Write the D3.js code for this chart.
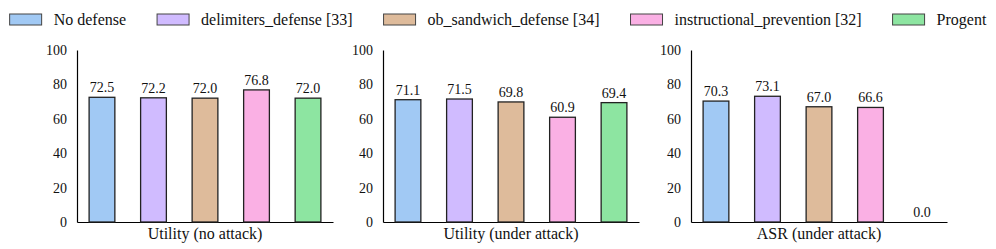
<!DOCTYPE html>
<html>
<head>
<meta charset="utf-8">
<script src="https://cdn.jsdelivr.net/npm/d3@7"></script>
<style>
  html, body { margin: 0; padding: 0; background: #fff; }
  svg { display: block; }
</style>
</head>
<body>
<svg id="chart" width="996" height="249" font-family="Liberation Serif"></svg>
<script>
// defenses (legend order) and colours
const defenses = ['No defense', 'delimiters_defense [33]', 'ob_sandwich_defense [34]', 'instructional_prevention [32]', 'Progent'];
const colors = ['#a1c9f4', '#d0bbff', '#debb9b', '#fab0e4', '#8de5a1'];

// one panel per metric
const metrics = ['Utility (no attack)', 'Utility (under attack)', 'ASR (under attack)'];
const utilityNoAttack = [72.5, 72.2, 72.0, 76.8, 72.0];
const utilityUnderAttack = [71.1, 71.5, 69.8, 60.9, 69.4];
const asrUnderAttack = [70.3, 73.1, 67.0, 66.6, 0.0];
const yTicks = [0, 20, 40, 60, 80, 100];

const seriesByMetric = [utilityNoAttack, utilityUnderAttack, asrUnderAttack];

const FONT = 'Liberation Serif';
const svg = d3.select('#chart');

const panelLeft = [77, 383, 691];
const panelWidth = 256;
const plotTop = 50, plotBottom = 222;

const x = d3.scaleBand().domain(defenses).range([0, panelWidth]).paddingInner(0.5).paddingOuter(0.235);
const y = d3.scaleLinear().domain([0, 100]).range([plotBottom, plotTop]);

metrics.forEach((metric, i) => {
  const values = seriesByMetric[i];
  const g = svg.append('g').attr('transform', `translate(${panelLeft[i]},0)`);

  // y axis, no tick marks
  const yAxis = g.append('g')
    .call(d3.axisLeft(y).tickValues(yTicks).tickSize(0).tickPadding(10))
    .attr('font-family', FONT)
    .attr('font-size', 14);
  yAxis.select('.domain').attr('stroke', '#000').attr('stroke-width', 1.2);
  yAxis.selectAll('text').attr('fill', '#111');

  // x axis line only
  const xAxis = g.append('g')
    .attr('transform', `translate(0,${plotBottom})`)
    .call(d3.axisBottom(x).tickSize(0).tickFormat(''));
  xAxis.select('.domain').attr('stroke', '#000').attr('stroke-width', 1.2);

  g.selectAll('rect.bar')
    .data(values)
    .join('rect')
    .attr('class', 'bar')
    .attr('x', (d, j) => x(defenses[j]))
    .attr('y', d => y(d))
    .attr('width', x.bandwidth())
    .attr('height', d => y(0) - y(d))
    .attr('fill', (d, j) => colors[j])
    .attr('stroke', '#222')
    .attr('stroke-width', 1.3);

  g.selectAll('text.val')
    .data(values)
    .join('text')
    .attr('class', 'val')
    .attr('x', (d, j) => x(defenses[j]) + x.bandwidth() / 2)
    .attr('y', d => y(d) - 5)
    .attr('text-anchor', 'middle')
    .attr('font-family', FONT)
    .attr('font-size', 14)
    .attr('fill', '#111')
    .text(d => d.toFixed(1));

  g.append('text')
    .attr('x', panelWidth / 2)
    .attr('y', plotBottom + 17)
    .attr('text-anchor', 'middle')
    .attr('font-family', FONT)
    .attr('font-size', 16)
    .attr('fill', '#111')
    .text(metric);
});

// legend, centred across the top
const legend = svg.append('g');
let cx = 0;
defenses.forEach((name, i) => {
  const item = legend.append('g').attr('transform', `translate(${cx},0)`);
  item.append('rect')
    .attr('x', 0).attr('y', 14)
    .attr('width', 32).attr('height', 11)
    .attr('fill', colors[i])
    .attr('stroke', '#444')
    .attr('stroke-width', 1);
  const t = item.append('text')
    .attr('x', 44).attr('y', 25)
    .attr('font-family', FONT)
    .attr('font-size', 16)
    .attr('fill', '#111')
    .text(name);
  cx += 44 + t.node().getComputedTextLength() + 31;
});
const legendWidth = cx - 31;
legend.attr('transform', `translate(${(996 - legendWidth) / 2},0)`);
</script>
</body>
</html>
